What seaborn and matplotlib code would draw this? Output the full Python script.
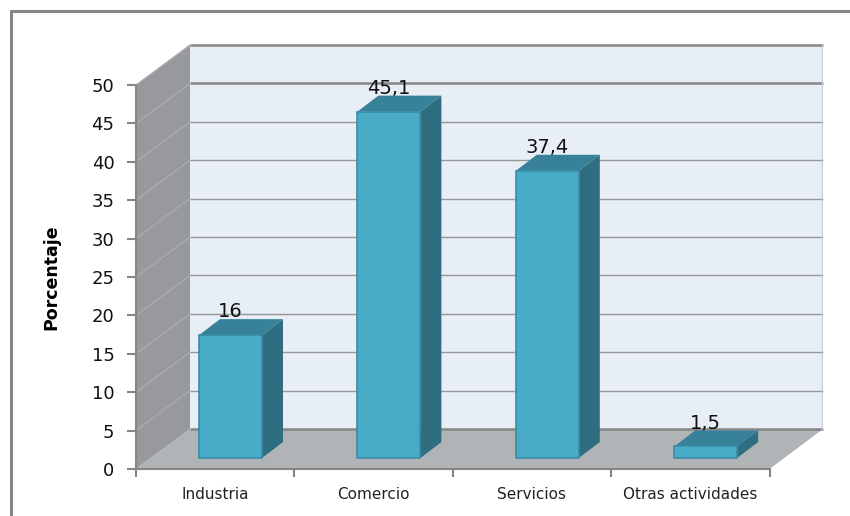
import matplotlib
matplotlib.use("Agg")
import matplotlib.pyplot as plt
from matplotlib.lines import Line2D
import numpy as np
import pandas as pd
import seaborn as sns

categories = ["Industria", "Comercio", "Servicios", "Otras actividades"]
values = [16, 45.1, 37.4, 1.5]
value_labels = ["16", "45,1", "37,4", "1,5"]
y_ticks = list(range(0, 55, 5))
y_label = "Porcentaje"

W, H = 850, 516
L_PX, R_PX, T_PX, B_PX = 136, 823, 44, 469
X_PX = 158.4      # pixels per category
Y_PX = 7.68       # pixels per percentage point
X0_PX = 230.5     # pixel centre of the first bar

FRONT = "#48ABC7"
EDGE = "#3A8CA6"
SIDE = "#2F6D80"
TOP = "#37819A"
WALL = "#97999D"
FLOOR = "#B0B4B7"
BACK = "#E8EEF6"
GRID = "#969799"
WALL_GRID = "#ABADB0"
AXIS = "#868686"

sns.set_theme(style="white")
plt.rcParams["font.family"] = ["DejaVu Sans"]

fig = plt.figure(figsize=(W / 100, H / 100), dpi=100, facecolor="white")
ax = fig.add_axes([L_PX / W, 1 - B_PX / H, (R_PX - L_PX) / W, (B_PX - T_PX) / H])
ax.patch.set_alpha(0)

xmin = (L_PX - X0_PX) / X_PX
xmax = (R_PX - X0_PX) / X_PX
ymax = (B_PX - T_PX) / Y_PX

wall_dx = 54 / X_PX          # depth of the box
wall_dy = 40 / Y_PX
bar_dx = 21 / X_PX           # depth of a bar
bar_dy = 16 / Y_PX
base = 11 / Y_PX             # bars stand on the floor, a little behind the front
bar_w = 63 / X_PX
front_right = xmin + 4
cat_shift = (L_PX + X_PX / 2 - X0_PX) / X_PX

df = pd.DataFrame({"categoria": categories, "valor": values})
sns.barplot(data=df, x="categoria", y="valor", ax=ax, color=FRONT, saturation=1,
            width=bar_w, bottom=base, errorbar=None, edgecolor=EDGE, linewidth=1.2,
            zorder=5)

# box: back wall, left wall, floor
ax.fill([xmin + wall_dx, xmax, xmax, xmin + wall_dx],
        [wall_dy, wall_dy, 50 + wall_dy, 50 + wall_dy], color=BACK, lw=0, zorder=0)
ax.fill([xmin, xmin + wall_dx, xmin + wall_dx, xmin],
        [0, wall_dy, 50 + wall_dy, 50], color=WALL, lw=0, zorder=1)
ax.fill([xmin, xmin + wall_dx, xmax, front_right],
        [0, wall_dy, wall_dy, 0], color=FLOOR, lw=0, zorder=1)

for t in y_ticks:
    heavy = t in (0, 50, 45)
    ax.plot([xmin + wall_dx, xmax], [t + wall_dy, t + wall_dy],
            color="#868686" if heavy else GRID, lw=1.8 if heavy else 1.0, zorder=1.5,
            solid_capstyle="butt", clip_on=False)
    if t > 0:
        ax.plot([xmin, xmin + wall_dx], [t, t + wall_dy], color=WALL_GRID, lw=0.9, zorder=1.5)
ax.plot([xmax - 0.004, xmax - 0.004], [wall_dy, 50 + wall_dy], color="#C9CDD3", lw=1, zorder=1.5)

# bar side and top faces, built from the values
for i, v in enumerate(values):
    left, right = i - bar_w / 2, i + bar_w / 2
    top = v + base
    ax.fill([right, right + bar_dx, right + bar_dx, right],
            [base, base + bar_dy, top + bar_dy, top], color=SIDE, lw=0, zorder=4)
    ax.fill([left, left + bar_dx, right + bar_dx, right],
            [top, top + bar_dy, top + bar_dy, top], color=TOP, lw=0, zorder=4)
    ax.annotate(value_labels[i], (i + bar_dx / 2 - 0.07, top + bar_dy), xytext=(0, -1.5),
                textcoords="offset points", ha="center", va="bottom",
                fontsize=14, color="#111111", zorder=3)

ax.set_xlim(xmin, xmax)
ax.set_ylim(0, ymax)

for s in ("top", "right"):
    ax.spines[s].set_visible(False)
for s in ("left", "bottom"):
    ax.spines[s].set_color(AXIS)
    ax.spines[s].set_linewidth(1.5)
    ax.spines[s].set_zorder(6)
ax.spines["left"].set_bounds(0, 50)
ax.spines["bottom"].set_bounds(xmin, front_right)

ax.set_yticks(y_ticks)
ax.set_yticklabels([str(t) for t in y_ticks], fontsize=13, color="#111111")
ax.tick_params(axis="y", length=6.5, width=1.5, color=AXIS, pad=9, left=True)

centres = [i + cat_shift for i in range(len(categories))]
bounds = [xmin + i for i in range(len(categories) + 1)]
ax.set_xticks(bounds)
ax.set_xticklabels([""] * len(bounds))
ax.set_xticks(centres, minor=True)
ax.set_xticklabels(categories, minor=True, fontsize=11, color="#222222")
ax.tick_params(axis="x", which="major", length=5.5, width=1.5, color=AXIS, bottom=True)
ax.tick_params(axis="x", which="minor", length=0, pad=12.7, bottom=False)

ax.set_xlabel("")
ax.set_ylabel(y_label, fontsize=12.5, fontweight="bold", color="black")
ax.yaxis.set_label_coords((60 - L_PX) / (R_PX - L_PX), (B_PX - 277) / (B_PX - T_PX))

# outer frame: only the top and left edges fall inside the image
frame_x, frame_y = 10.5 / W, 1 - 11 / H
fig.add_artist(Line2D([frame_x, frame_x], [0, frame_y], color=AXIS, lw=2.2, transform=fig.transFigure))
fig.add_artist(Line2D([frame_x, 1], [frame_y, frame_y], color=AXIS, lw=2.2, transform=fig.transFigure))

fig.savefig("out.png", dpi=100)
